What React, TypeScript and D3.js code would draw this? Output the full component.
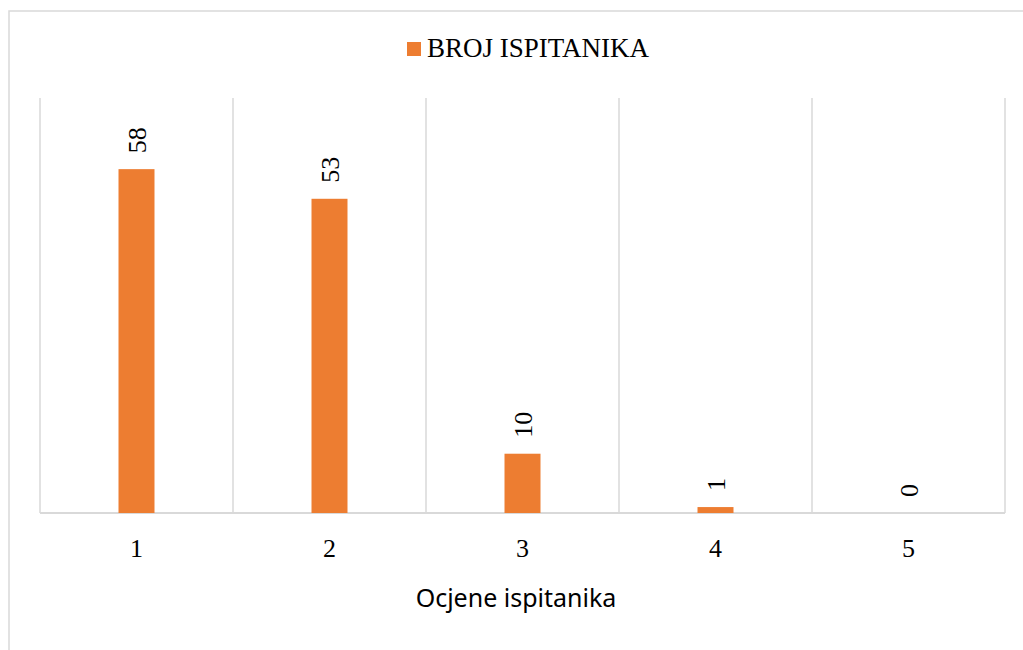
import * as d3 from "d3";
import React, { useEffect, useRef } from "react";

// chart data
const categories = ["1", "2", "3", "4", "5"];
const values = [58, 53, 10, 1, 0];
const seriesName = "BROJ ISPITANIKA";
const axisTitle = "Ocjene ispitanika";

const BarChart = () => {
  const ref = useRef<SVGSVGElement | null>(null);

  useEffect(() => {
    drawChart();
  }, []);

  const drawChart = () => {
    const svg = d3.select(ref.current);
    svg.selectAll("*").remove();

    const width = 1023;
    const height = 650;
    const left = 40;
    const right = 1005;
    const top = 98;
    const bottom = 513;
    const serif = "'Liberation Serif', 'Times New Roman', serif";
    const grid = "#d9d9d9";
    const orange = "#ED7D31";

    svg.attr("width", width).attr("height", height);

    // outer border (right / bottom edges fall outside the picture)
    svg
      .append("rect")
      .attr("x", 9)
      .attr("y", 11)
      .attr("width", width + 20)
      .attr("height", height + 20)
      .attr("fill", "white")
      .attr("stroke", grid)
      .attr("stroke-width", 1.5);

    const x = d3
      .scaleBand()
      .domain(categories)
      .range([left, right])
      .paddingInner(0.8135)
      .paddingOuter(0.8135 / 2);

    const y = d3.scaleLinear().domain([0, 70]).range([bottom, top]);

    // vertical gridlines at category boundaries
    const step = x.step();
    svg
      .selectAll("gridLines")
      .data(d3.range(categories.length + 1))
      .enter()
      .append("line")
      .attr("x1", (i) => left + i * step)
      .attr("x2", (i) => left + i * step)
      .attr("y1", top)
      .attr("y2", bottom)
      .attr("stroke", grid)
      .attr("stroke-width", 1.5);

    // baseline
    svg
      .append("line")
      .attr("x1", left)
      .attr("x2", right)
      .attr("y1", bottom)
      .attr("y2", bottom)
      .attr("stroke", grid)
      .attr("stroke-width", 2);

    const data = categories.map((c, i) => ({ cat: c, value: values[i] }));

    svg
      .selectAll("bars")
      .data(data)
      .enter()
      .append("rect")
      .attr("x", (d) => x(d.cat)!)
      .attr("y", (d) => y(d.value))
      .attr("width", x.bandwidth())
      .attr("height", (d) => bottom - y(d.value))
      .attr("fill", orange);

    // rotated value labels
    svg
      .selectAll("valueLabels")
      .data(data)
      .enter()
      .append("text")
      .attr("transform", (d) => {
        const cx = x(d.cat)! + x.bandwidth() / 2;
        const cy = y(d.value) - 16;
        return `translate(${cx},${cy}) rotate(-90)`;
      })
      .attr("dy", "0.35em")
      .attr("text-anchor", "start")
      .style("font-family", serif)
      .style("font-size", "26px")
      .attr("fill", "#000")
      .text((d) => d.value);

    // category labels
    svg
      .selectAll("catLabels")
      .data(categories)
      .enter()
      .append("text")
      .attr("x", (d) => x(d)! + x.bandwidth() / 2)
      .attr("y", 557)
      .attr("text-anchor", "middle")
      .style("font-family", serif)
      .style("font-size", "26px")
      .attr("fill", "#000")
      .text((d) => d);

    // axis title
    svg
      .append("text")
      .attr("x", 516)
      .attr("y", 607)
      .attr("text-anchor", "middle")
      .style("font-family", "'Noto Sans', sans-serif")
      .style("font-size", "25px")
      .attr("fill", "#000")
      .text(axisTitle);

    // legend
    const legend = svg.append("g").attr("transform", "translate(407,42)");
    legend
      .append("rect")
      .attr("width", 14)
      .attr("height", 14)
      .attr("fill", orange);
    legend
      .append("text")
      .attr("x", 20)
      .attr("y", 15)
      .style("font-family", serif)
      .style("font-size", "27px")
      .attr("fill", "#000")
      .text(seriesName);
  };

  return (
    <svg
      ref={ref}
      style={{ position: "absolute", left: 0, top: 0, display: "block" }}
    />
  );
};

export default function App() {
  return <BarChart />;
}
